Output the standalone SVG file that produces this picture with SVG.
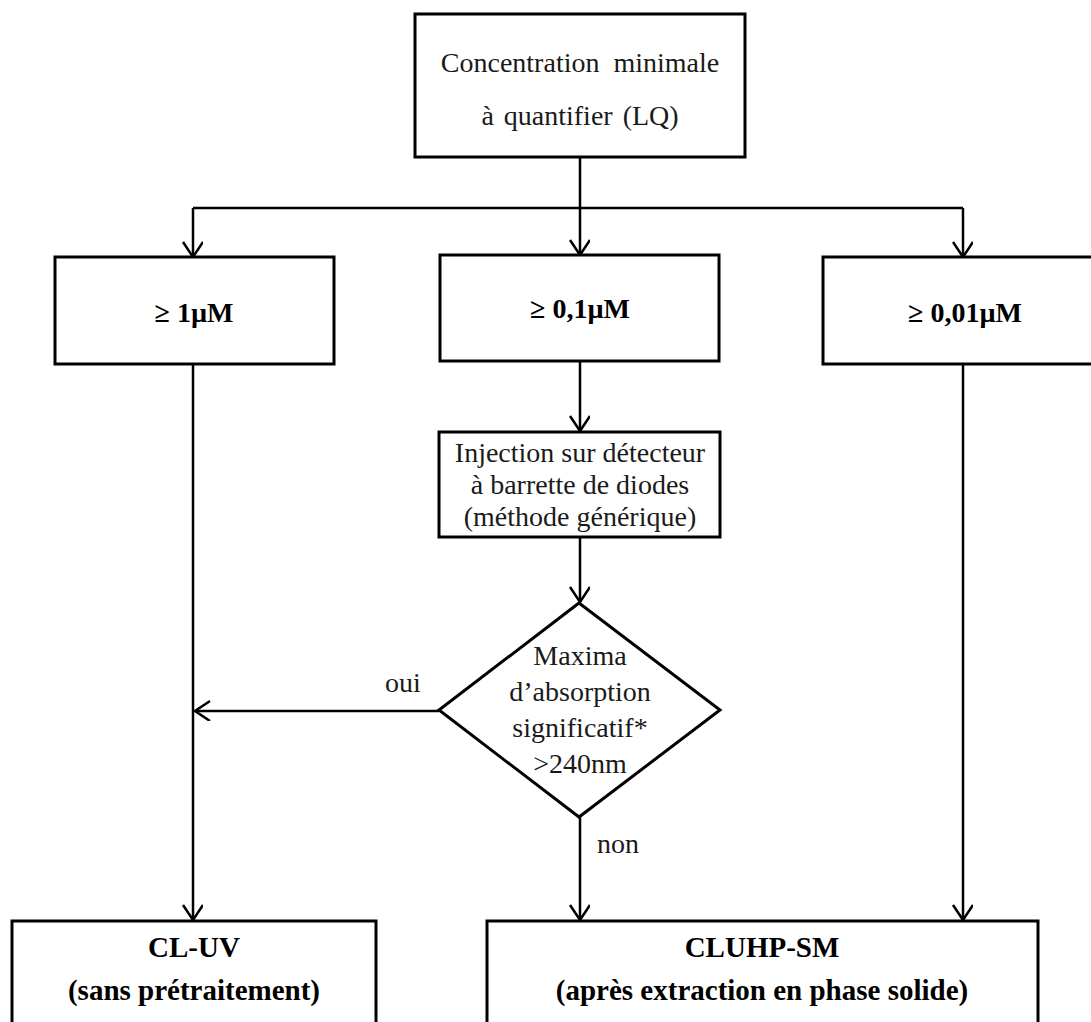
<svg xmlns="http://www.w3.org/2000/svg" width="1091" height="1022" viewBox="0 0 1091 1022">
<defs>
<marker id="arr" markerUnits="userSpaceOnUse" markerWidth="22" markerHeight="24" refX="16" refY="10" orient="auto" viewBox="0 0 22 24">
<path d="M1,0 L16,10 L1,20" fill="none" stroke="#000" stroke-width="2.5"/>
</marker>
</defs>
<style>
.box{fill:#fff;stroke:#000;stroke-width:3}
.line{fill:none;stroke:#000;stroke-width:2.5}
.t{font-family:"Liberation Serif","Times New Roman",serif;font-size:28px;fill:#1a1a1a;text-anchor:middle}
.b{font-family:"Liberation Serif","Times New Roman",serif;font-size:28px;font-weight:bold;fill:#000;text-anchor:middle}
.bb{font-family:"Liberation Serif","Times New Roman",serif;font-size:29px;font-weight:bold;fill:#000;text-anchor:middle}
.l{font-family:"Liberation Serif","Times New Roman",serif;font-size:28px;fill:#1a1a1a}
</style>
<rect width="1091" height="1022" fill="#fff"/>
<g id="connectors">
<path class="line" d="M580,157 V208"/>
<path class="line" d="M193,208 H963"/>
<path class="line" d="M193,208 V257" marker-end="url(#arr)"/>
<path class="line" d="M580,208 V255" marker-end="url(#arr)"/>
<path class="line" d="M963,208 V257" marker-end="url(#arr)"/>
<path class="line" d="M580,361 V431" marker-end="url(#arr)"/>
<path class="line" d="M580,537 V602" marker-end="url(#arr)"/>
<path class="line" d="M439,711 H195" marker-end="url(#arr)"/>
<path class="line" d="M193,364 V920" marker-end="url(#arr)"/>
<path class="line" d="M580,817 V920" marker-end="url(#arr)"/>
<path class="line" d="M963,364 V920" marker-end="url(#arr)"/>
<text class="l" x="385" y="692">oui</text>
<text class="l" x="597" y="853">non</text>
</g>
<g id="top">
<rect class="box" x="415" y="14" width="330" height="143"/>
<text class="t" x="580" y="72" word-spacing="7">Concentration minimale</text>
<text class="t" x="580" y="125" word-spacing="3">à quantifier (LQ)</text>
</g>
<g id="c1">
<rect class="box" x="55" y="257" width="279" height="107"/>
<text class="b" x="194" y="322">≥ 1µM</text>
</g>
<g id="c2">
<rect class="box" x="440" y="255" width="279" height="106"/>
<text class="b" x="580" y="318">≥ 0,1µM</text>
</g>
<g id="c3">
<rect class="box" x="823" y="257" width="280" height="107"/>
<text class="b" x="965" y="322">≥ 0,01µM</text>
</g>
<g id="inj">
<rect class="box" x="439" y="432" width="281" height="105"/>
<text class="t" x="580" y="462">Injection sur détecteur</text>
<text class="t" x="580" y="494">à barrette de diodes</text>
<text class="t" x="580" y="526">(méthode générique)</text>
</g>
<g id="diamond">
<polygon class="box" points="579,603 720,710 579,817 439,710"/>
<text class="t" x="580" y="665">Maxima</text>
<text class="t" x="580" y="701">d’absorption</text>
<text class="t" x="580" y="737">significatif*</text>
<text class="t" x="580" y="773">&gt;240nm</text>
</g>
<g id="cluv">
<rect class="box" x="12" y="921" width="364" height="120"/>
<text class="bb" x="194" y="957">CL-UV</text>
<text class="bb" x="194" y="1000">(sans prétraitement)</text>
</g>
<g id="cluhp">
<rect class="box" x="487" y="921" width="551" height="120"/>
<text class="bb" x="762" y="957">CLUHP-SM</text>
<text class="bb" x="762" y="1000">(après extraction en phase solide)</text>
</g>
</svg>
